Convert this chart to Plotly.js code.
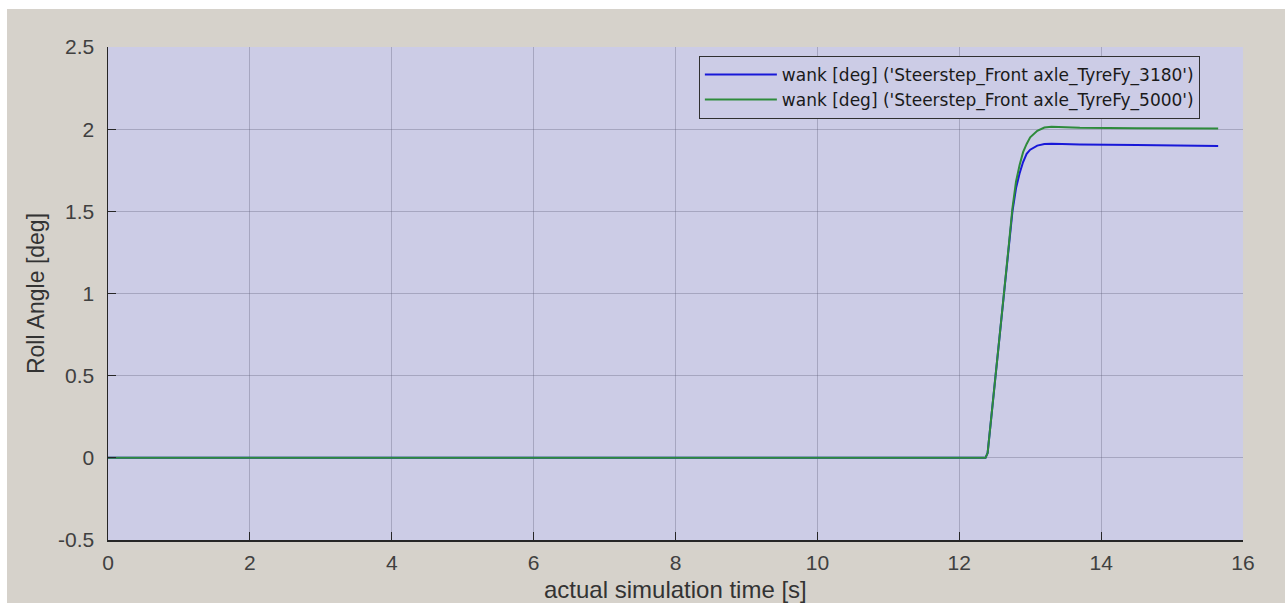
<!DOCTYPE html>
<html>
<head>
<meta charset="utf-8">
<script src="https://cdn.plot.ly/plotly-3.0.1.min.js"></script>
<style>
  html, body { margin: 0; padding: 0; background: #ffffff; width: 1285px; height: 603px; overflow: hidden; }
  #chart { position: absolute; left: 7px; top: 9px; width: 1278px; height: 594px; }
</style>
</head>
<body>
<div id="chart"></div>
<script>
// time [s]
const timeBlue = [0, 12.37, 12.40, 12.45, 12.50, 12.55, 12.60, 12.65, 12.70, 12.75, 12.80, 12.85, 12.90, 12.95, 13.00, 13.10, 13.20, 13.30, 13.45, 13.70, 14.50, 15.65];
const rollBlue = [0, 0, 0.03, 0.22, 0.45, 0.66, 0.86, 1.07, 1.30, 1.50, 1.64, 1.73, 1.80, 1.85, 1.875, 1.90, 1.91, 1.912, 1.91, 1.907, 1.903, 1.897];
const timeGreen = [0, 12.37, 12.40, 12.45, 12.50, 12.55, 12.60, 12.65, 12.70, 12.75, 12.80, 12.85, 12.90, 12.95, 13.00, 13.10, 13.20, 13.30, 13.45, 13.70, 14.50, 15.65];
const rollGreen = [0, 0, 0.03, 0.22, 0.45, 0.66, 0.86, 1.07, 1.30, 1.52, 1.68, 1.78, 1.86, 1.91, 1.95, 1.99, 2.01, 2.015, 2.012, 2.008, 2.006, 2.004];

const nameBlue = "wank [deg] ('Steerstep_Front axle_TyreFy_3180')";
const nameGreen = "wank [deg] ('Steerstep_Front axle_TyreFy_5000')";

const xTickVals = [0, 2, 4, 6, 8, 10, 12, 14, 16];
const xTickText = ["0", "2", "4", "6", "8", "10", "12", "14", "16"];
const yTickVals = [-0.5, 0, 0.5, 1, 1.5, 2, 2.5];
const yTickText = ["-0.5", "0", "0.5", "1", "1.5", "2", "2.5"];

const xTitle = "actual simulation time [s]";
const yTitle = "Roll Angle [deg]";

const traces = [
  { x: timeBlue, y: rollBlue, type: 'scatter', mode: 'lines', name: nameBlue,
    line: { color: '#1818d8', width: 2 } },
  { x: timeGreen, y: rollGreen, type: 'scatter', mode: 'lines', name: nameGreen,
    line: { color: '#2e8b3c', width: 2 } }
];

const FONT = 'Arial, Liberation Sans, sans-serif';

const axisCommon = {
  showline: true, linecolor: '#262626', linewidth: 1.5,
  ticks: 'inside', ticklen: 8, tickcolor: '#262626', tickwidth: 1.2,
  showgrid: true, gridcolor: 'rgba(95,95,120,0.35)', gridwidth: 1,
  zeroline: false, mirror: false,
  tickfont: { family: FONT, size: 21, color: '#404040' },
  tickmode: 'array', fixedrange: true, automargin: false
};

const layout = {
  width: 1278, height: 594,
  paper_bgcolor: '#d6d2cb',
  plot_bgcolor: '#cccce6',
  margin: { l: 101, r: 42, t: 38, b: 63 },
  showlegend: true,
  legend: {
    x: 0.962, xanchor: 'right', y: 0.982, yanchor: 'top',
    bgcolor: '#cccce6', bordercolor: '#303030', borderwidth: 1,
    font: { family: 'DejaVu Sans, sans-serif', size: 17, color: '#1a1a1a' },
    itemwidth: 72, tracegroupgap: 0
  },
  xaxis: Object.assign({}, axisCommon, {
    range: [0, 16], tickvals: xTickVals, ticktext: xTickText,
    ticklabelstandoff: 3
  }),
  yaxis: Object.assign({}, axisCommon, {
    range: [-0.5, 2.5], tickvals: yTickVals, ticktext: yTickText,
    ticklabelstandoff: 8,
    title: { text: yTitle, standoff: 7, font: { family: FONT, size: 23, color: '#333333' } }
  }),
  annotations: [{
    text: xTitle, xref: 'paper', yref: 'paper', x: 0.5, y: -0.1,
    xanchor: 'center', yanchor: 'middle', showarrow: false,
    font: { family: FONT, size: 24, color: '#333333' }
  }]
};

Plotly.newPlot('chart', traces, layout, { displayModeBar: false, staticPlot: true });
</script>
</body>
</html>
